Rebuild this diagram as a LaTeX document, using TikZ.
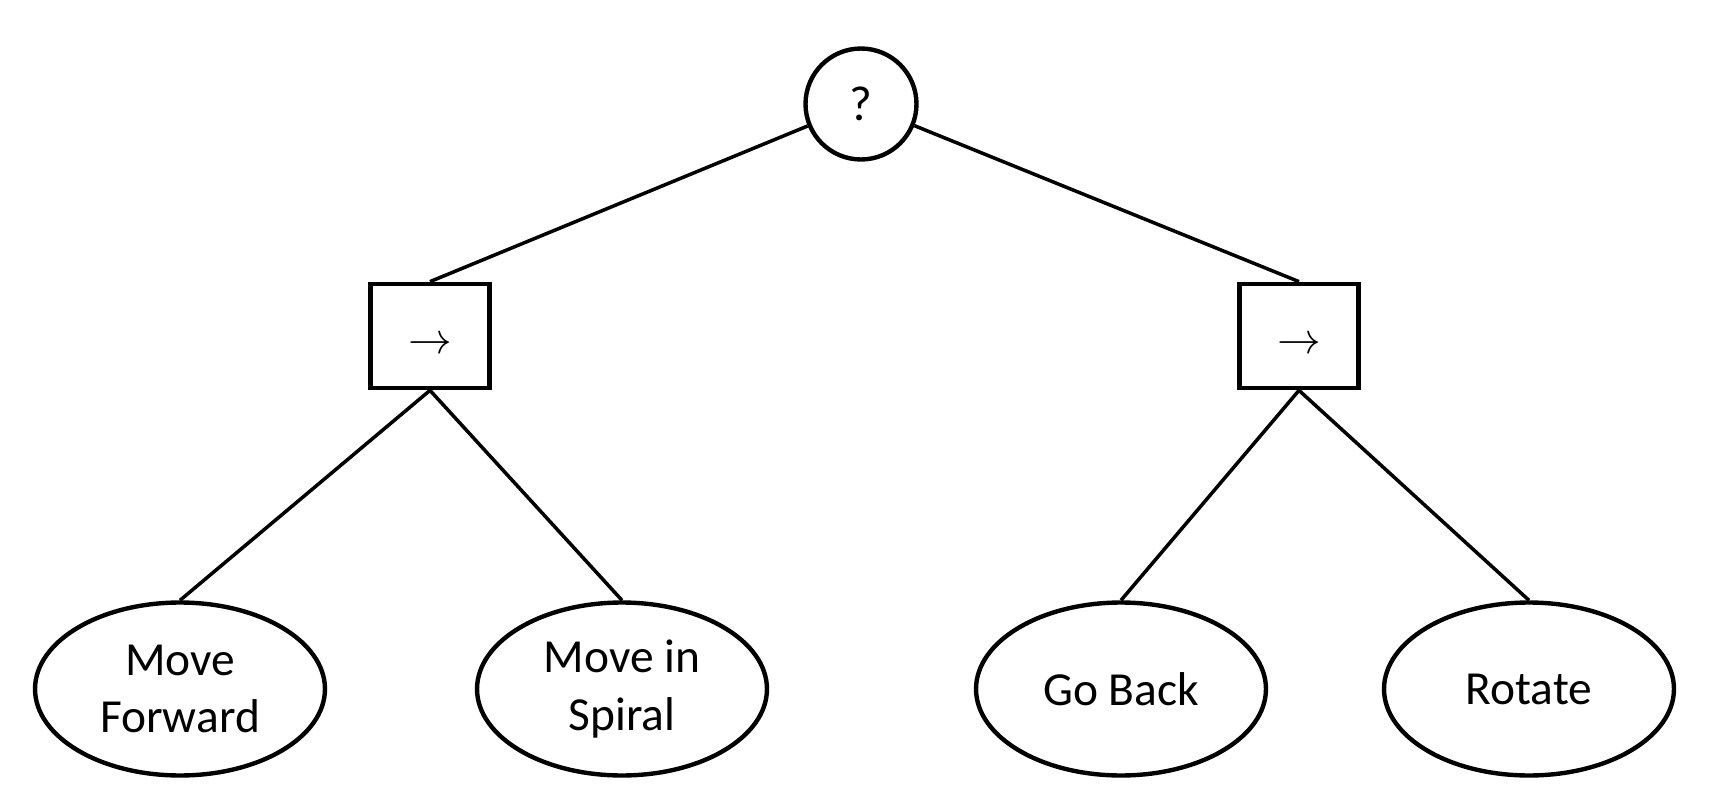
\documentclass[tikz,border=0pt]{standalone}
\usepackage{fontspec}
\setmainfont{Carlito}
\usetikzlibrary{shapes.geometric}

\begin{document}
\begin{tikzpicture}[x=0.02cm, y=-0.02cm,
    raiz/.style={circle, draw, line width=2.5pt, minimum size=2.22cm, inner sep=0pt,
      font=\fontsize{28}{32}\selectfont},
    secuencia/.style={rectangle, draw, line width=2.7pt, minimum width=2.38cm,
      minimum height=2.08cm, inner sep=0pt, font=\fontsize{25}{28}\selectfont},
    accion/.style={ellipse, draw, line width=2.5pt, minimum width=5.8cm,
      minimum height=3.46cm, inner sep=0pt, align=center,
      font=\fontsize{27}{32.5}\selectfont},
    rama/.style={line width=2pt}]

    % Definir el marco del dibujo
    \useasboundingbox (0,0) rectangle (1712,798);

    % Definir alturas de cada nivel
    \def\yr{104} % nodo raiz
    \def\ys{336} % secuencias
    \def\ya{689} % acciones

    % Nodo selector
    \node[raiz] (sel) at (861,\yr) {?};

    % Nodos de secuencia
    \node[secuencia] (seqizq) at (430,\ys) {\smash{\raisebox{-10pt}{$\rightarrow$}}};
    \node[secuencia] (seqder) at (1299,\ys) {\smash{\raisebox{-10pt}{$\rightarrow$}}};

    % Hojas con las acciones
    \node[accion] (avanzar) at (180,\ya) {Move\\Forward};
    \node[accion] (espiral) at (622,\ya) {Move in\\Spiral};
    \node[accion] (volver) at (1121,\ya) {Go Back};
    \node[accion] (rotar) at (1529,\ya) {Rotate};

    % Dibujar las ramas
    \draw[rama] (sel) -- (seqizq.north);
    \draw[rama] (sel) -- (seqder.north);
    \draw[rama] (seqizq.south) -- (avanzar.north);
    \draw[rama] (seqizq.south) -- (espiral.north);
    \draw[rama] (seqder.south) -- (volver.north);
    \draw[rama] (seqder.south) -- (rotar.north);
\end{tikzpicture}
\end{document}
